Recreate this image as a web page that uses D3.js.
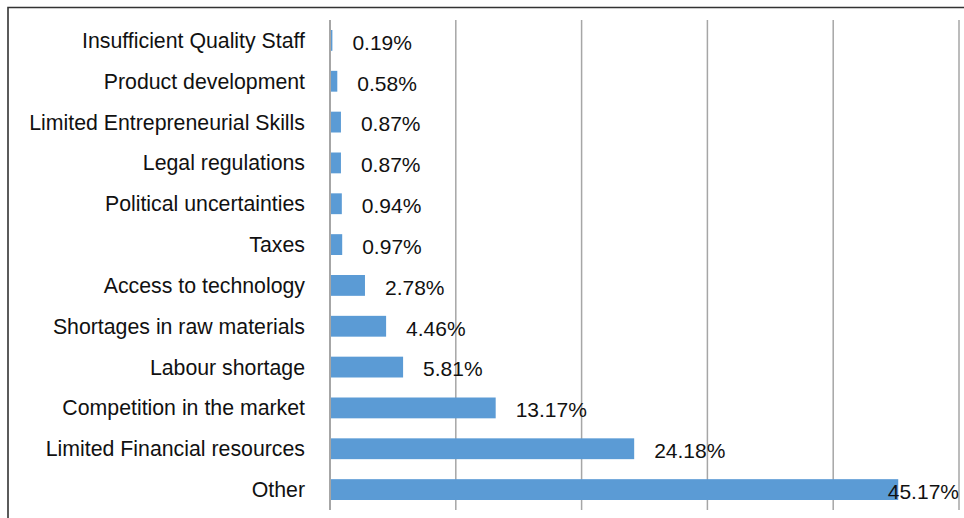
<!DOCTYPE html>
<html>
<head>
<meta charset="utf-8">
<script src="https://cdn.jsdelivr.net/npm/d3@7"></script>
<style>
  html, body { margin: 0; padding: 0; background: #fff; }
  svg { display: block; font-family: "Liberation Sans", Arial, sans-serif; }
</style>
</head>
<body>
<div id="chart"></div>
<script>
// Categories from top to bottom
const categories = [
  "Insufficient Quality Staff",
  "Product development",
  "Limited Entrepreneurial Skills",
  "Legal regulations",
  "Political uncertainties",
  "Taxes",
  "Access to technology",
  "Shortages in raw materials",
  "Labour shortage",
  "Competition in the market",
  "Limited Financial resources",
  "Other"
];
// Share of respondents, percent
const values = [0.19, 0.58, 0.87, 0.87, 0.94, 0.97, 2.78, 4.46, 5.81, 13.17, 24.18, 45.17];
// Gridline positions, percent
const gridTicks = [0, 10, 20, 30, 40, 50];

const width = 964;
const height = 518;
const margin = { top: 20, right: 5, bottom: 8, left: 330 };

const data = categories.map((c, i) => ({ name: c, value: values[i] }));

const svg = d3.select("#chart").append("svg")
  .attr("width", width)
  .attr("height", height);

// Outer frame (cropped at right and bottom in the original)
svg.append("path")
  .attr("d", `M8,${height + 5}V7.5H${width + 5}`)
  .attr("fill", "none")
  .attr("stroke", "#333")
  .attr("stroke-width", 1.6);

const x = d3.scaleLinear()
  .domain([0, 50])
  .range([margin.left, width - margin.right]);

const y = d3.scaleBand()
  .domain(categories)
  .range([margin.top, height - margin.bottom])
  .paddingInner(0.49)
  .paddingOuter(0.245);

// Vertical gridlines
svg.append("g")
  .selectAll("line")
  .data(gridTicks)
  .join("line")
  .attr("x1", d => x(d))
  .attr("x2", d => x(d))
  .attr("y1", margin.top)
  .attr("y2", height - margin.bottom)
  .attr("stroke", "#a6a6a6")
  .attr("stroke-width", d => d === 0 ? 2 : 1.5);

// Bars
svg.append("g")
  .selectAll("rect")
  .data(data)
  .join("rect")
  .attr("x", x(0) + 1)
  .attr("y", d => y(d.name))
  .attr("width", d => Math.max(0, x(d.value) - x(0) - 1))
  .attr("height", y.bandwidth())
  .attr("fill", "#5b9bd5");

// Category labels
svg.append("g")
  .selectAll("text")
  .data(data)
  .join("text")
  .attr("x", x(0) - 25)
  .attr("y", d => y(d.name) + y.bandwidth() / 2)
  .attr("dy", "0.35em")
  .attr("text-anchor", "end")
  .style("font-size", "21.3px")
  .style("fill", "#111")
  .text(d => d.name);

// Value labels, kept inside the plot area
const valueText = svg.append("g")
  .selectAll("text")
  .data(data)
  .join("text")
  .attr("y", d => y(d.name) + y.bandwidth() / 2 + 2)
  .attr("dy", "0.35em")
  .style("font-size", "21px")
  .style("fill", "#111")
  .text(d => d.value.toFixed(2) + "%");

valueText.attr("x", function (d) {
  const w = this.getComputedTextLength();
  return Math.min(x(d.value) + 20, x(50) - w);
});
</script>
</body>
</html>
